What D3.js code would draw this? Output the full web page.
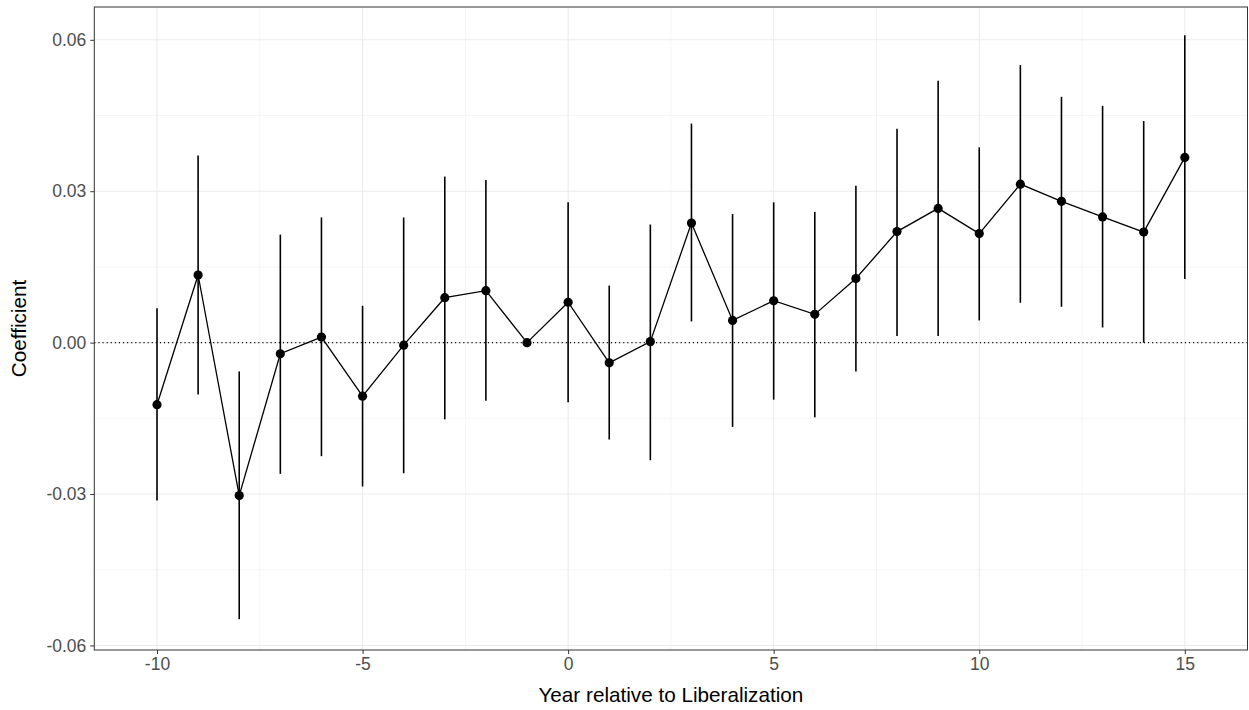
<!DOCTYPE html>
<meta charset="utf-8">
<head>
<style>
body {
  margin: 0;
  background: #fff;
  font-family: "Liberation Sans", Arial, sans-serif;
}
.grid-major { stroke: #ebebeb; stroke-width: 1.1px; }
.grid-minor { stroke: #f3f3f3; stroke-width: 0.8px; }
.axis text { fill: #4d4d4d; font-size: 17.5px; }
.axis line { stroke: #333; stroke-width: 1px; }
.axis path { display: none; }
.title { fill: #000; font-size: 20.7px; }
</style>
<script src="https://d3js.org/d3.v7.min.js"></script>
</head>
<body>
<div id="chart"></div>
<script>

// event-time coefficients
var years = [-10, -9, -8, -7, -6, -5, -4, -3, -2, -1, 0, 1, 2, 3, 4, 5, 6, 7, 8, 9, 10, 11, 12, 13, 14, 15];
var coef  = [-0.0123, 0.0134, -0.0303, -0.0022, 0.0011, -0.0106, -0.0005, 0.0089, 0.0103, 0.0000, 0.0080, -0.0040,
             0.0002, 0.0237, 0.0044, 0.0083, 0.0056, 0.0127, 0.0220, 0.0266, 0.0216, 0.0314, 0.0280, 0.0249, 0.0219, 0.0367];
var lower = [-0.0313, -0.0103, -0.0548, -0.0260, -0.0225, -0.0285, -0.0259, -0.0152, -0.0115, 0.0000, -0.0118, -0.0192,
             -0.0233, 0.0042, -0.0167, -0.0113, -0.0148, -0.0057, 0.0013, 0.0013, 0.0044, 0.0079, 0.0071, 0.0030, 0.0000, 0.0126];
var upper = [0.0068, 0.0371, -0.0057, 0.0214, 0.0248, 0.0073, 0.0248, 0.0329, 0.0322, 0.0000, 0.0278, 0.0113,
             0.0234, 0.0434, 0.0255, 0.0278, 0.0259, 0.0311, 0.0424, 0.0519, 0.0387, 0.0550, 0.0487, 0.0469, 0.0439, 0.0609];

var xMajor = [-10, -5, 0, 5, 10, 15];
var xMinor = [-7.5, -2.5, 2.5, 7.5, 12.5];
var yMajor = [-0.06, -0.03, 0, 0.03, 0.06];
var yMinor = [-0.045, -0.015, 0.015, 0.045];

var data = years.map(function(y, i) {
  return {year: y, est: coef[i], lo: lower[i], hi: upper[i]};
});

var W = 1249, H = 710;
var margin = {top: 7, right: 1.5, bottom: 60, left: 94.3};
var width = W - margin.left - margin.right,
    height = H - margin.top - margin.bottom;

var svg = d3.select("#chart").append("svg")
  .attr("width", W)
  .attr("height", H)
  .append("g")
  .attr("transform", "translate(" + margin.left + "," + margin.top + ")");

var x = d3.scaleLinear()
  .domain([-11.525, 16.525])
  .range([0, width]);

var y = d3.scaleLinear()
  .domain([-0.0609, 0.0665])
  .range([height, 0]);

// ascii hyphen for negatives, like the original
var hyphen = function(f) { return function(d) { return f(d).replace("\u2212", "-"); }; };

//// grid
svg.selectAll(".gx-minor").data(xMinor).enter().append("line")
  .attr("class", "grid-minor")
  .attr("x1", function(d) { return x(d); }).attr("x2", function(d) { return x(d); })
  .attr("y1", 0).attr("y2", height);
svg.selectAll(".gy-minor").data(yMinor).enter().append("line")
  .attr("class", "grid-minor")
  .attr("y1", function(d) { return y(d); }).attr("y2", function(d) { return y(d); })
  .attr("x1", 0).attr("x2", width);
svg.selectAll(".gx-major").data(xMajor).enter().append("line")
  .attr("class", "grid-major")
  .attr("x1", function(d) { return x(d); }).attr("x2", function(d) { return x(d); })
  .attr("y1", 0).attr("y2", height);
svg.selectAll(".gy-major").data(yMajor).enter().append("line")
  .attr("class", "grid-major")
  .attr("y1", function(d) { return y(d); }).attr("y2", function(d) { return y(d); })
  .attr("x1", 0).attr("x2", width);

//// zero reference line
svg.append("line")
  .attr("x1", 0).attr("x2", width)
  .attr("y1", y(0)).attr("y2", y(0))
  .attr("stroke", "#000")
  .attr("stroke-width", 1.1)
  .attr("stroke-dasharray", "1.1,3");

//// error bars
svg.selectAll(".err").data(data.filter(function(d) { return d.hi !== d.lo; })).enter().append("line")
  .attr("x1", function(d) { return x(d.year); }).attr("x2", function(d) { return x(d.year); })
  .attr("y1", function(d) { return y(d.lo); }).attr("y2", function(d) { return y(d.hi); })
  .attr("stroke", "#000")
  .attr("stroke-width", 1.6);

//// connecting line
var line = d3.line()
  .x(function(d) { return x(d.year); })
  .y(function(d) { return y(d.est); });
svg.append("path")
  .datum(data)
  .attr("d", line)
  .attr("fill", "none")
  .attr("stroke", "#000")
  .attr("stroke-width", 1.3);

//// points
svg.selectAll(".pt").data(data).enter().append("circle")
  .attr("cx", function(d) { return x(d.year); })
  .attr("cy", function(d) { return y(d.est); })
  .attr("r", 4.6)
  .attr("fill", "#000");

//// panel border
svg.append("rect")
  .attr("width", width).attr("height", height)
  .attr("fill", "none")
  .attr("stroke", "#333")
  .attr("stroke-width", 1);

//// axes
svg.append("g")
  .attr("class", "axis")
  .attr("transform", "translate(0," + height + ")")
  .call(d3.axisBottom(x).tickValues(xMajor).tickSize(4).tickPadding(4).tickFormat(hyphen(d3.format("d"))))
  .selectAll("text").attr("dy", "0.71em");

svg.append("g")
  .attr("class", "axis")
  .call(d3.axisLeft(y).tickValues(yMajor).tickSize(4).tickPadding(4).tickFormat(hyphen(d3.format(".2f"))));

svg.append("text")
  .attr("class", "title")
  .attr("x", width / 2)
  .attr("y", height + 52)
  .attr("text-anchor", "middle")
  .text("Year relative to Liberalization");

svg.append("text")
  .attr("class", "title")
  .attr("transform", "translate(" + (-68) + "," + (height / 2) + ") rotate(-90)")
  .attr("text-anchor", "middle")
  .text("Coefficient");

</script>
</body>
</html>
